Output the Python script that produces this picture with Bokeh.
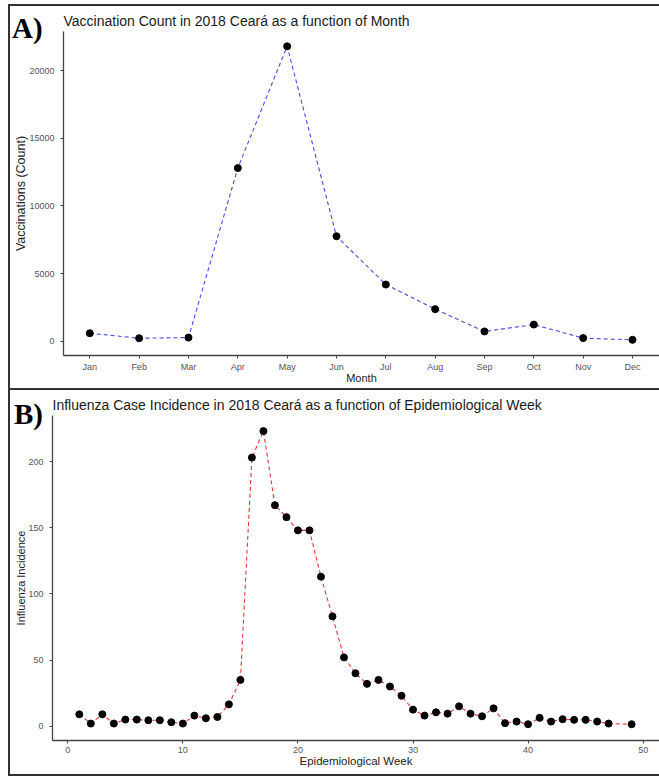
from bokeh.plotting import figure
from bokeh.layouts import column, row
from bokeh.models import FixedTicker, Range1d, Div
from bokeh.embed import file_html
from bokeh.resources import INLINE

# ---- data ----
months = ["Jan", "Feb", "Mar", "Apr", "May", "Jun", "Jul", "Aug", "Sep", "Oct", "Nov", "Dec"]
month_num = list(range(1, 13))
vaccinations = [590, 220, 270, 12800, 21800, 7760, 4190, 2370, 720, 1230, 230, 100]

weeks = list(range(1, 48)) + [49]
incidence = [9, 2, 9, 2, 5, 5, 4.5, 4.5, 3, 2,
             8, 6, 7, 16.5, 35, 203, 223, 167, 158, 148,
             148, 113, 83, 52, 40, 32, 35, 30, 23, 12.5,
             8, 10.5, 9.5, 15, 9.5, 7.5, 13.5, 2.3, 3.5, 1.5,
             6.3, 3.5, 5.3, 4.8, 4.8, 3.5, 2, 1.5]

title_a = "Vaccination Count in 2018 Ceará as a function of Month"
title_b = "Influenza Case Incidence in 2018 Ceará as a function of Epidemiological Week"

W = 659
HA = 389
HB = 386
FONT = "Liberation Sans"


def style(p, title, xlab_size, ylab_size, xlab_standoff):
    p.outline_line_color = None
    p.xgrid.visible = False
    p.ygrid.visible = False
    p.background_fill_color = "white"
    p.border_fill_color = "white"
    p.title.text = title
    p.title.text_font = FONT
    p.title.text_font_size = "14px"
    p.title.text_font_style = "normal"
    p.title.text_color = "#1a1a1a"
    p.title.align = "left"
    p.title.offset = 0
    p.title.standoff = 6
    for ax in (p.xaxis[0], p.yaxis[0]):
        ax.axis_line_color = "#444444"
        ax.axis_line_width = 1.3
        ax.major_tick_line_color = "#444444"
        ax.major_tick_line_width = 1
        ax.major_tick_in = 0
        ax.major_tick_out = 3
        ax.minor_tick_line_color = None
        ax.major_label_text_font = FONT
        ax.major_label_text_font_size = "9px"
        ax.major_label_text_color = "#555555"
        ax.axis_label_text_font = FONT
        ax.axis_label_text_font_style = "normal"
        ax.axis_label_text_color = "#222222"
    p.xaxis[0].axis_label_text_font_size = xlab_size
    p.yaxis[0].axis_label_text_font_size = ylab_size
    p.xaxis[0].major_label_standoff = 3
    p.xaxis[0].axis_label_standoff = xlab_standoff
    p.yaxis[0].major_label_standoff = 6
    p.yaxis[0].axis_label_standoff = -2


# ---- panel A ----
pA = figure(width=W, height=HA, x_range=Range1d(0.467, 12.547), y_range=Range1d(-1057, 22895),
            output_backend="svg", toolbar_location=None,
            min_border_left=63, min_border_right=0, min_border_top=31, min_border_bottom=34)
style(pA, title_a, "11px", "12.5px", -3)
pA.xaxis[0].ticker = FixedTicker(ticks=month_num)
pA.xaxis[0].major_label_overrides = {m: n for m, n in zip(month_num, months)}
pA.yaxis[0].ticker = FixedTicker(ticks=[0, 5000, 10000, 15000, 20000])
pA.xaxis[0].axis_label = "Month"
pA.yaxis[0].axis_label = "Vaccinations (Count)"
pA.line(month_num, vaccinations, line_color="#4a4ae8", line_width=1.1, line_dash="4 3")
pA.scatter(month_num, vaccinations, size=7, color="black")

# ---- panel B ----
pB = figure(width=W, height=HB, x_range=Range1d(-1.33, 51.42), y_range=Range1d(-10.8, 234.8),
            output_backend="svg", toolbar_location=None,
            min_border_left=52, min_border_right=0, min_border_top=26, min_border_bottom=35)
style(pB, title_b, "11.5px", "11px", -1)
pB.xaxis[0].ticker = FixedTicker(ticks=[0, 10, 20, 30, 40, 50])
pB.yaxis[0].ticker = FixedTicker(ticks=[0, 50, 100, 150, 200])
pB.xaxis[0].axis_label = "Epidemiological Week"
pB.yaxis[0].axis_label = "Influenza Incidence"
pB.line(weeks, incidence, line_color="#ee3333", line_width=1.1, line_dash="4 3")
pB.scatter(weeks, incidence, size=7, color="black")

# ---- panel frames and panel letters (HTML overlay) ----
line_css = "position:absolute;background:#333;"
overlay_html = (
    f'<div style="{line_css}left:8px;top:4px;width:2px;height:772px;"></div>'
    f'<div style="{line_css}left:8px;top:4px;width:651px;height:2px;"></div>'
    f'<div style="{line_css}left:8px;top:388px;width:651px;height:2px;"></div>'
    f'<div style="{line_css}left:8px;top:774px;width:651px;height:2px;"></div>'
    '<div style="position:absolute;left:12px;top:14px;font-family:\'Liberation Serif\';font-weight:bold;'
    'font-size:29px;line-height:1;color:#000;">A)</div>'
    '<div style="position:absolute;left:14px;top:400px;font-family:\'Liberation Serif\';font-weight:bold;'
    'font-size:29px;line-height:1;color:#000;">B)</div>'
)
overlay = Div(text=overlay_html, width=W, height=HA + HB, margin=0,
              styles={"position": "absolute", "left": "0px", "top": "0px",
                      "pointer-events": "none", "z-index": "10"})

layout = column(row(pA), row(pB), overlay, spacing=0)
open("out.html", "w").write(file_html(layout, INLINE))
